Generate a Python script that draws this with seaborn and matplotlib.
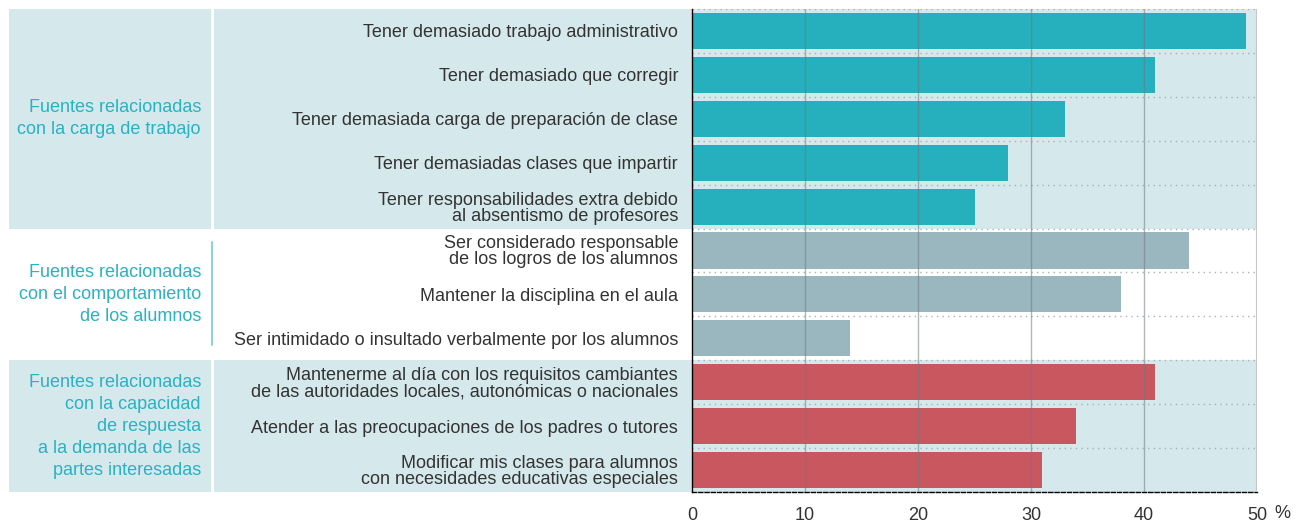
import pandas as pd
import matplotlib
matplotlib.use("Agg")
import matplotlib.pyplot as plt
import matplotlib.transforms as mtransforms
from matplotlib.patches import Rectangle
import seaborn as sns

# data
categorias = [
    "Tener demasiado trabajo administrativo",
    "Tener demasiado que corregir",
    "Tener demasiada carga de preparación de clase",
    "Tener demasiadas clases que impartir",
    "Tener responsabilidades extra debido\nal absentismo de profesores",
    "Ser considerado responsable\nde los logros de los alumnos",
    "Mantener la disciplina en el aula",
    "Ser intimidado o insultado verbalmente por los alumnos",
    "Mantenerme al día con los requisitos cambiantes\nde las autoridades locales, autonómicas o nacionales",
    "Atender a las preocupaciones de los padres o tutores",
    "Modificar mis clases para alumnos\ncon necesidades educativas especiales",
]
valores = [49, 41, 33, 28, 25, 44, 38, 14, 41, 34, 31]
grupos = ["carga"] * 5 + ["comportamiento"] * 3 + ["demanda"] * 3
grupo_labels = {
    "carga": "Fuentes relacionadas\ncon la carga de trabajo",
    "comportamiento": "Fuentes relacionadas\ncon el comportamiento\nde los alumnos",
    "demanda": "Fuentes relacionadas\ncon la capacidad\nde respuesta\na la demanda de las\npartes interesadas",
}
colores = {"carga": "#26afbd", "comportamiento": "#9ab7bf", "demanda": "#c9575f"}
xticks = [0, 10, 20, 30, 40, 50]

df = pd.DataFrame({"cat": categorias, "val": valores, "grupo": grupos})

sns.set_style("white")
plt.rcParams["font.family"] = ["Liberation Sans", "DejaVu Sans"]

W, H = 1303, 523
fig = plt.figure(figsize=(W / 100, H / 100), dpi=100)
ax = fig.add_axes([692 / W, 1 - 492 / H, (1257 - 692) / W, (492 - 9) / H])
ax.set_zorder(5)

shade = "#d5e8ec"
teal_txt = "#2ab2c2"
txt = "#333333"
fs = 13

# background bands (figure x, data y)
trans = mtransforms.blended_transform_factory(fig.transFigure, ax.transData)
n = len(categorias)
bandas = [("carga", -0.5, 4.5, True), ("comportamiento", 4.5, 7.5, False), ("demanda", 7.5, 10.5, True)]
for g, y0, y1, sombreado in bandas:
    if sombreado:
        fig.patches.append(Rectangle((9 / W, y1), (1257 - 9) / W, y0 - y1, transform=trans,
                                     facecolor=shade, edgecolor="none", zorder=-2))
        fig.lines.append(plt.Line2D([212 / W, 212 / W], [y0, y1], transform=trans,
                                    color="white", lw=2.2, zorder=-1))
    else:
        fig.lines.append(plt.Line2D([212 / W, 212 / W], [y0 + 0.3, y1 - 0.35], transform=trans,
                                    color="#8fd2da", lw=1.5, zorder=-1))
    fig.text(201 / W, (y0 + y1) / 2, grupo_labels[g], transform=trans, ha="right", va="center",
             color=teal_txt, fontsize=fs, linespacing=1.38)

ax.patch.set_alpha(0)

# dotted row separators
for yb in range(n + 1):
    ax.axhline(yb - 0.5, color="#a8b2b5", lw=1, ls=(0, (1, 3)), zorder=1)

sns.barplot(data=df, x="val", y="cat", hue="grupo", palette=colores, dodge=False,
            width=0.82, legend=False, ax=ax, zorder=2, saturation=1, linewidth=0)

for xv in xticks[1:-1]:
    ax.axvline(xv, color="#6f7b80", lw=1, alpha=0.55, zorder=3)
ax.axvline(50, color="#c4c8ca", lw=1.5, zorder=3)

ax.set_xlim(0, 50)
ax.set_ylim(n - 0.5, -0.5)
ax.set_xticks(xticks)
ax.set_xticklabels([str(t) for t in xticks], fontsize=fs, color=txt)
ax.set_yticks(range(n))
ax.set_yticklabels(categorias, fontsize=fs, color=txt, linespacing=0.92)
ax.tick_params(axis="both", length=0)
ax.tick_params(axis="y", pad=10)
ax.tick_params(axis="x", pad=11)
ax.set_xlabel("")
ax.set_ylabel("")
ax.text(1282 / W, 1 - 514 / H, "%", transform=fig.transFigure, ha="center", va="center",
        fontsize=fs, color=txt)

for s in ["top", "right"]:
    ax.spines[s].set_visible(False)
ax.spines["left"].set_color("black")
ax.spines["left"].set_linewidth(1)
ax.spines["left"].set_zorder(4)
ax.spines["bottom"].set_color("black")
ax.spines["bottom"].set_linewidth(1)
ax.spines["bottom"].set_linestyle((0, (3, 1.5)))

fig.savefig("out.png", dpi=100)
